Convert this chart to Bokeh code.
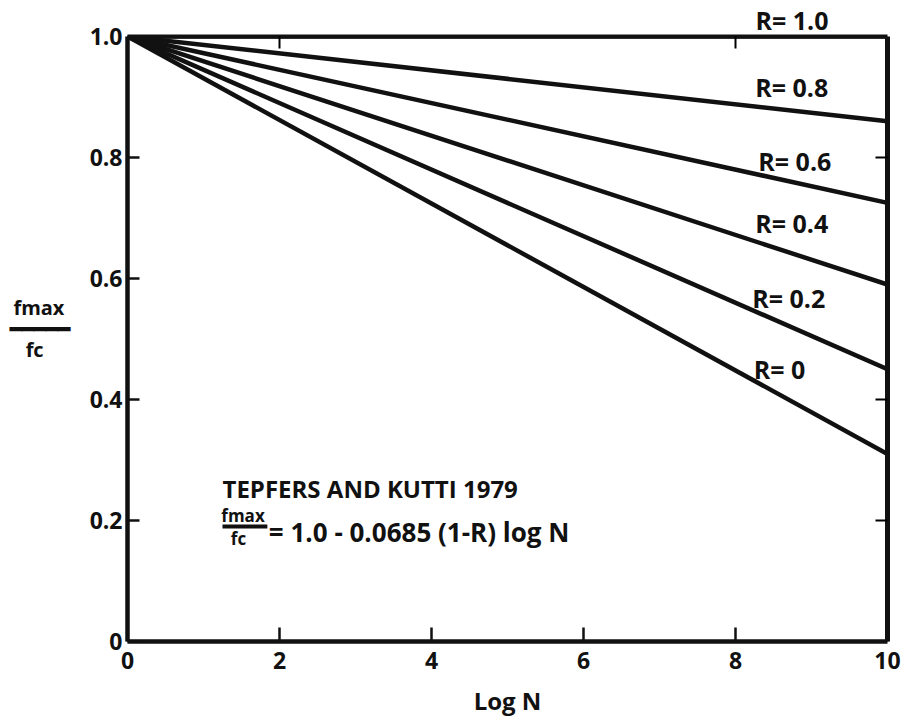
from bokeh.plotting import figure
from bokeh.models import Range1d, FixedTicker, LinearAxis, Label, CustomJSTickFormatter
from bokeh.embed import file_html
from bokeh.resources import INLINE

# log N axis end points and f_max/f_c at log N = 10 for each stress ratio R
log_n = [0, 10]
r_labels = ["R= 0", "R= 0.2", "R= 0.4", "R= 0.6", "R= 0.8", "R= 1.0"]
ratio_at_start = [1.0, 1.0, 1.0, 1.0, 1.0, 1.0]
ratio_at_end = [0.31, 0.45, 0.59, 0.725, 0.86, 1.0]

x_ticks = [0, 2, 4, 6, 8, 10]
y_ticks = [0, 0.2, 0.4, 0.6, 0.8, 1.0]

FONT = "Open Sans"
INK = "#111111"
NBSP = "\u00a0"

p = figure(width=912, height=720, output_backend="svg", toolbar_location=None,
           x_range=Range1d(0, 10), y_range=Range1d(0, 1),
           min_border_left=127, min_border_right=25, min_border_top=35,
           min_border_bottom=79)
p.outline_line_color = None
p.grid.visible = False
p.background_fill_color = "white"
p.border_fill_color = "white"

for ax in p.xaxis + p.yaxis:
    ax.axis_line_width = 4.5
    ax.axis_line_color = INK
    ax.major_tick_in = 14
    ax.major_tick_out = 0
    ax.major_tick_line_width = 2.5
    ax.major_tick_line_color = INK
    ax.minor_tick_line_color = None
    ax.major_label_text_font = FONT
    ax.major_label_text_font_style = "bold"
    ax.major_label_text_font_size = "23px"
    ax.major_label_text_color = INK
    ax.axis_label_text_font = FONT
    ax.axis_label_text_font_style = "bold"
    ax.axis_label_text_color = INK

p.xaxis.ticker = FixedTicker(ticks=x_ticks)
p.yaxis.ticker = FixedTicker(ticks=y_ticks)
p.yaxis.formatter = CustomJSTickFormatter(code="return tick == 0 ? '0' : tick.toFixed(1)")
p.xaxis.major_label_standoff = 10
p.yaxis.major_label_standoff = 5
p.yaxis.major_tick_in = 12

# axis titles; the y title is a stacked fraction f_max / f_c
p.xaxis.axis_label = "Log N"
p.xaxis.axis_label_text_font_size = "24px"
p.xaxis.axis_label_standoff = 12
p.yaxis.axis_label = ("fmax" + NBSP + "\n" + "\u2501" * 5 + "\n" + "fc" + NBSP * 5 + "\n" + NBSP)
p.yaxis.axis_label_orientation = "horizontal"
p.yaxis.axis_label_text_font_size = "20px"
p.yaxis.axis_label_text_line_height = 0.78
p.yaxis.axis_label_standoff = 17

# frame on the top and right with a few inward ticks, no labels
blank = CustomJSTickFormatter(code="return ''")
top = LinearAxis(ticker=FixedTicker(ticks=[2, 8]), formatter=blank,
                 major_label_standoff=0, axis_line_width=4, axis_line_color=INK,
                 major_tick_in=12, major_tick_out=0, major_tick_line_width=2,
                 minor_tick_line_color=None)
right = LinearAxis(ticker=FixedTicker(ticks=[0.2, 0.4, 0.8]), formatter=blank,
                   major_label_standoff=0, axis_line_width=5, axis_line_color=INK,
                   major_tick_in=12, major_tick_out=0, major_tick_line_width=2,
                   minor_tick_line_color=None)
p.add_layout(top, "above")
p.add_layout(right, "right")

# the R = 1.0 curve runs along the top edge; its label sits above the frame
p.title.text = r_labels[-1]
p.title.align = "left"
p.title.offset = 628
p.title.standoff = 0
p.title.text_font = FONT
p.title.text_font_style = "bold"
p.title.text_font_size = "25px"
p.title.text_color = INK

# one straight fatigue line per stress ratio
for y0, y1 in zip(ratio_at_start, ratio_at_end):
    p.line(log_n, [y0, y1], line_color=INK, line_width=4.5)

# curve labels inside the frame
label_pos = [(8.24, 0.45), (8.22, 0.568), (8.26, 0.691), (8.30, 0.795), (8.26, 0.916)]
for txt, (lx, ly) in zip(r_labels[:-1], label_pos):
    p.add_layout(Label(x=lx, y=ly, text=txt, text_font=FONT, text_font_style="bold",
                       text_font_size="25px", text_color=INK, text_baseline="middle",
                       text_align="left"))

# Tepfers and Kutti relation
p.add_layout(Label(x=1.25, y=0.253, text="TEPFERS AND KUTTI 1979", text_font=FONT,
                   text_font_style="bold", text_font_size="24px", text_color=INK,
                   text_baseline="middle", text_align="left"))
p.add_layout(Label(x=1.52, y=0.208, text="fmax", text_font=FONT, text_font_style="bold",
                   text_font_size="17px", text_color=INK, text_baseline="middle",
                   text_align="center"))
p.line([1.25, 1.84], [0.19, 0.19], line_color=INK, line_width=4)
p.add_layout(Label(x=1.46, y=0.170, text="fc", text_font=FONT, text_font_style="bold",
                   text_font_size="17px", text_color=INK, text_baseline="middle",
                   text_align="center"))
p.add_layout(Label(x=1.86, y=0.181, text="= 1.0 - 0.0685 (1-R) log N", text_font=FONT,
                   text_font_style="bold", text_font_size="26px", text_color=INK,
                   text_baseline="middle", text_align="left"))

open("out.html", "w").write(file_html(p, INLINE))
